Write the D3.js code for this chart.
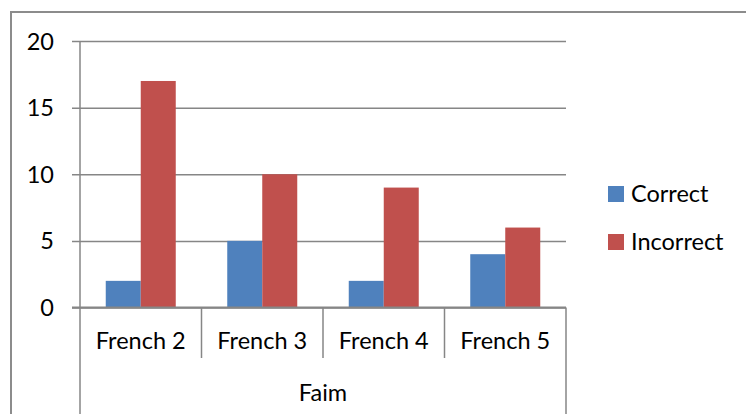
<!DOCTYPE html>
<html><head><meta charset="utf-8">
<script src="https://cdn.jsdelivr.net/npm/d3@7"></script>
<style>
html,body{margin:0;padding:0;background:#fff;}
svg text{font-family:Lato,"Open Sans",sans-serif;fill:#000;}
</style></head>
<body><svg id="c" width="746" height="414"></svg>
<script>
const categories = ["French 2","French 3","French 4","French 5"];
const groupLabel = "Faim";
const seriesNames = ["Correct","Incorrect"];
const correct = [2,5,2,4];
const incorrect = [17,10,9,6];
const yTicks = [0,5,10,15,20];
const colors = ["#4F81BD","#C0504D"];

const svg = d3.select("#c");
const fs = 23.5;
const grid = "#868686";

// outer frame
svg.append("rect").attr("x",11).attr("y",12).attr("width",760).attr("height",420)
  .attr("fill","none").attr("stroke","#8c8c8c").attr("stroke-width",2);

const x0 = 80, x1 = 566, yTop = 41, yBot = 307.5;
const x = d3.scaleBand().domain(categories).range([x0,x1]).paddingInner(0).paddingOuter(0);
const xs = d3.scaleBand().domain(seriesNames).range([0,x.bandwidth()]).paddingInner(0).paddingOuter(0.7357);
const y = d3.scaleLinear().domain([0,20]).range([yBot,yTop]);

// gridlines
const yAxis = d3.axisLeft(y).tickValues(yTicks).tickSize(-(x1-x0)).tickPadding(18).tickFormat(d3.format("d"));
const ga = svg.append("g").attr("transform",`translate(${x0},0)`).call(yAxis);
ga.select(".domain").remove();
ga.selectAll(".tick line").attr("stroke",grid).attr("stroke-width",1.5).attr("x1",-8).attr("x2",x1-x0);
ga.selectAll(".tick text").attr("font-size",fs).attr("font-family","Lato").attr("fill","#000").attr("dy","0.34em").attr("x",-26);

// bars
const data = categories.map((c,i)=>({c, vals:[correct[i],incorrect[i]]}));
const g = svg.append("g");
data.forEach(d=>{
  d.vals.forEach((v,j)=>{
    g.append("rect")
      .attr("x", x(d.c)+xs(seriesNames[j]))
      .attr("y", y(v))
      .attr("width", xs.bandwidth())
      .attr("height", yBot - y(v))
      .attr("fill", colors[j]);
  });
});

// axes lines
svg.append("line").attr("x1",x0).attr("x2",x0).attr("y1",yTop).attr("y2",420).attr("stroke",grid).attr("stroke-width",1.5);
svg.append("line").attr("x1",x1).attr("x2",x1).attr("y1",yBot).attr("y2",420).attr("stroke",grid).attr("stroke-width",1.5);
svg.append("line").attr("x1",x0-8).attr("x2",x1).attr("y1",yBot).attr("y2",yBot).attr("stroke",grid).attr("stroke-width",2);
categories.slice(1).forEach(c=>{
  svg.append("line").attr("x1",x(c)).attr("x2",x(c)).attr("y1",yBot).attr("y2",358).attr("stroke",grid).attr("stroke-width",1.5);
});

// category labels
categories.forEach(c=>{
  svg.append("text").attr("x",x(c)+x.bandwidth()/2).attr("y",341).attr("dy","0.35em")
    .attr("text-anchor","middle").attr("font-size",fs).text(c);
});
svg.append("text").attr("x",(x0+x1)/2).attr("y",393).attr("dy","0.35em")
  .attr("text-anchor","middle").attr("font-size",fs).text(groupLabel);

// legend
const leg = svg.append("g");
seriesNames.forEach((s,i)=>{
  const cy = 194 + i*48;
  leg.append("rect").attr("x",608).attr("y",cy-8).attr("width",16).attr("height",16).attr("fill",colors[i]);
  leg.append("text").attr("x",631).attr("y",cy).attr("dy","0.35em").attr("font-size",fs).text(s);
});
</script></body></html>
